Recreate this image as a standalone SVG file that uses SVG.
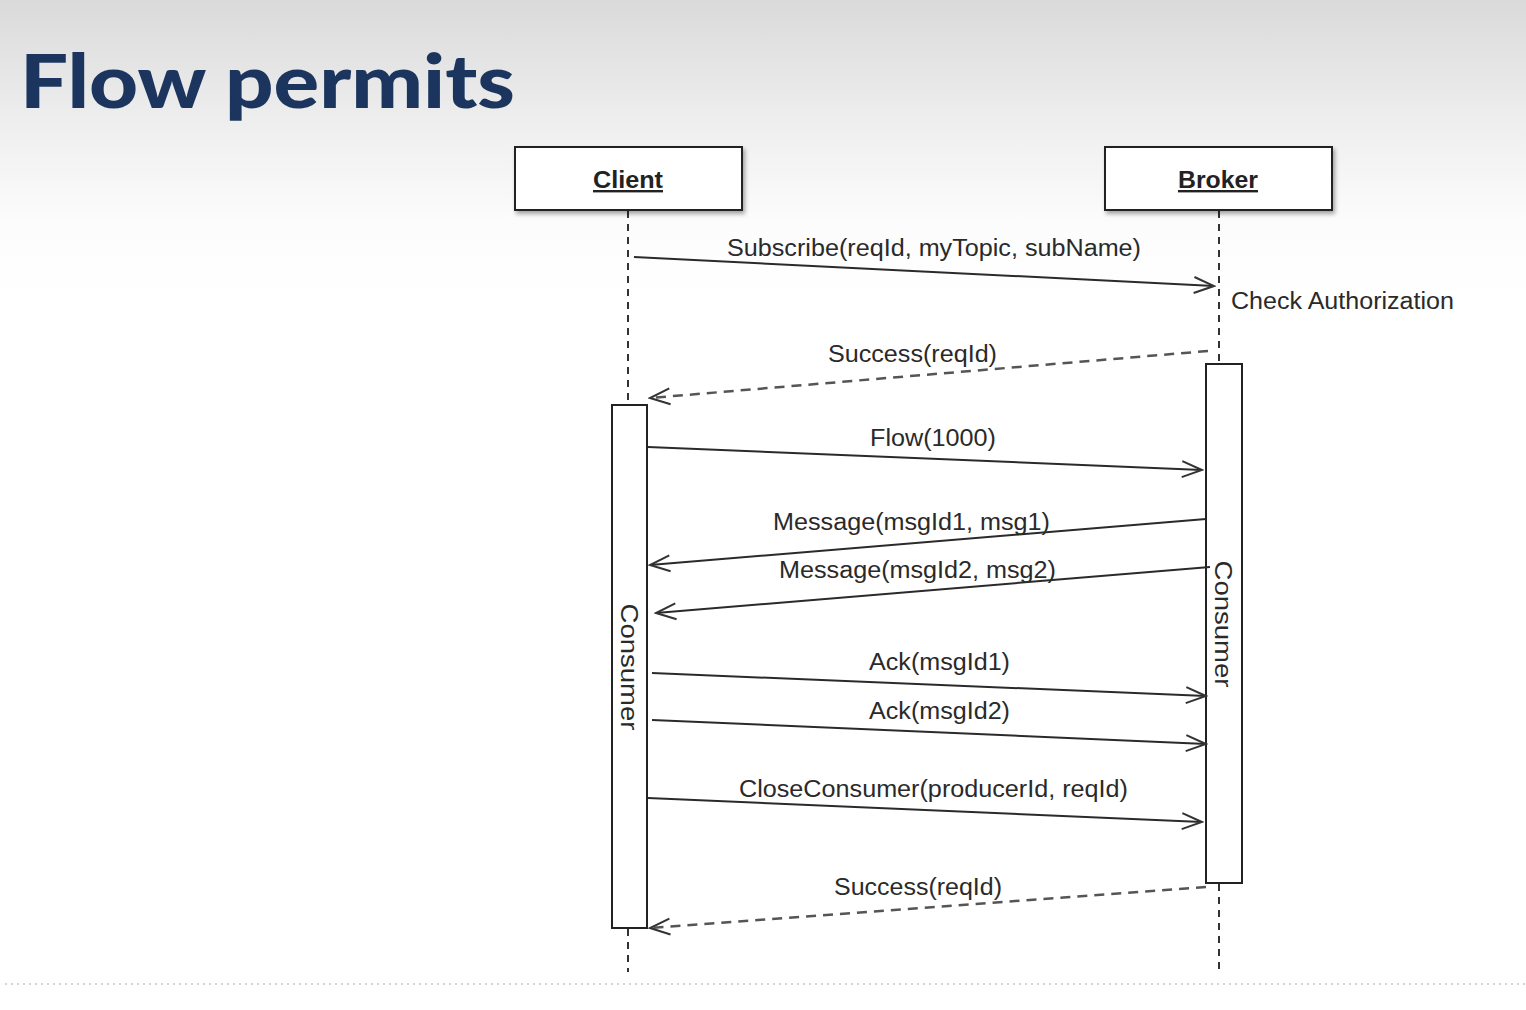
<svg xmlns="http://www.w3.org/2000/svg" width="1526" height="1010" viewBox="0 0 1526 1010">
<defs>
<linearGradient id="bg" x1="0" y1="0" x2="0" y2="1">
<stop offset="0" stop-color="#dadada"/>
<stop offset="0.12" stop-color="#eeeeee"/>
<stop offset="0.22" stop-color="#fcfcfc"/>
<stop offset="0.3" stop-color="#ffffff"/>
<stop offset="1" stop-color="#ffffff"/>
</linearGradient>
<filter id="sh" x="-10%" y="-20%" width="130%" height="160%">
<feDropShadow dx="2" dy="3" stdDeviation="2" flood-color="#000" flood-opacity="0.35"/>
</filter>
<marker id="arr" viewBox="-22 -11 24 22" refX="0" refY="0" markerWidth="24" markerHeight="22" markerUnits="userSpaceOnUse" orient="auto">
<path d="M-20,-8 L0,0 L-20,8" fill="none" stroke="#333" stroke-width="2"/>
</marker>
</defs>
<style>
.title{font-family:"Lato","Noto Sans",sans-serif;font-weight:900;font-size:74px;fill:#1b355e}
.hdr{font-family:"Liberation Sans",Arial,sans-serif;font-weight:bold;font-size:24px;fill:#222;text-decoration:underline}
.lbl{font-family:"Liberation Sans",Arial,sans-serif;font-size:23px;fill:#2a2a2a}
.box{fill:#fff;stroke:#222;stroke-width:2}
.act{fill:#fff;stroke:#222;stroke-width:2}
.life{stroke:#333;stroke-width:2;stroke-dasharray:7 6;fill:none}
.msg{stroke:#2a2a2a;stroke-width:2;fill:none;marker-end:url(#arr)}
.ret{stroke:#555;stroke-width:2.5;stroke-dasharray:10 7;fill:none;marker-end:url(#arr)}
</style>
<rect x="0" y="0" width="1526" height="1010" fill="url(#bg)"/>
<text class="title" x="20" y="108" textLength="495" lengthAdjust="spacingAndGlyphs">Flow permits</text>
<line x1="5" y1="984" x2="1526" y2="984" stroke="#c8c8c8" stroke-width="1.5" stroke-dasharray="2 4"/>

<g id="lifelines">
<line class="life" x1="628" y1="211" x2="628" y2="405"/>
<line class="life" x1="628" y1="929" x2="628" y2="972"/>
<line class="life" x1="1219" y1="211" x2="1219" y2="364"/>
<line class="life" x1="1219" y1="884" x2="1219" y2="972"/>
</g>

<g id="client">
<rect class="box" x="515" y="147" width="227" height="63" filter="url(#sh)"/>
<text class="hdr" x="628" y="188" text-anchor="middle" textLength="70" lengthAdjust="spacingAndGlyphs">Client</text>
</g>
<g id="broker">
<rect class="box" x="1105" y="147" width="227" height="63" filter="url(#sh)"/>
<text class="hdr" x="1218" y="188" text-anchor="middle" textLength="80" lengthAdjust="spacingAndGlyphs">Broker</text>
</g>

<g id="client-consumer">
<rect class="act" x="612" y="405" width="35" height="523"/>
<text class="lbl" transform="translate(621,667) rotate(90)" text-anchor="middle" textLength="127" lengthAdjust="spacingAndGlyphs">Consumer</text>
</g>
<g id="broker-consumer">
<rect class="act" x="1206" y="364" width="36" height="519"/>
<text class="lbl" transform="translate(1215,624) rotate(90)" text-anchor="middle" textLength="127" lengthAdjust="spacingAndGlyphs">Consumer</text>
</g>

<g id="check-auth">
<text class="lbl" x="1231" y="309" textLength="223" lengthAdjust="spacingAndGlyphs">Check Authorization</text>
</g>

<g id="connectors">
<line class="msg" x1="634" y1="257" x2="1214" y2="286"/>
<text class="lbl" x="727" y="256" textLength="414" lengthAdjust="spacingAndGlyphs">Subscribe(reqId, myTopic, subName)</text>

<line class="ret" x1="1208" y1="351" x2="650" y2="398"/>
<text class="lbl" x="828" y="362" textLength="169" lengthAdjust="spacingAndGlyphs">Success(reqId)</text>

<line class="msg" x1="648" y1="447" x2="1202" y2="470"/>
<text class="lbl" x="870" y="446" textLength="126" lengthAdjust="spacingAndGlyphs">Flow(1000)</text>

<line class="msg" x1="1206" y1="519" x2="650" y2="565"/>
<text class="lbl" x="773" y="530" textLength="277" lengthAdjust="spacingAndGlyphs">Message(msgId1, msg1)</text>

<line class="msg" x1="1210" y1="567" x2="656" y2="613"/>
<text class="lbl" x="779" y="578" textLength="277" lengthAdjust="spacingAndGlyphs">Message(msgId2, msg2)</text>

<line class="msg" x1="652" y1="673" x2="1206" y2="696"/>
<text class="lbl" x="869" y="670" textLength="141" lengthAdjust="spacingAndGlyphs">Ack(msgId1)</text>

<line class="msg" x1="652" y1="720" x2="1206" y2="744"/>
<text class="lbl" x="869" y="719" textLength="141" lengthAdjust="spacingAndGlyphs">Ack(msgId2)</text>

<line class="msg" x1="648" y1="798" x2="1202" y2="822"/>
<text class="lbl" x="739" y="797" textLength="389" lengthAdjust="spacingAndGlyphs">CloseConsumer(producerId, reqId)</text>

<line class="ret" x1="1206" y1="887" x2="650" y2="928"/>
<text class="lbl" x="834" y="895" textLength="168" lengthAdjust="spacingAndGlyphs">Success(reqId)</text>
</g>
</svg>
